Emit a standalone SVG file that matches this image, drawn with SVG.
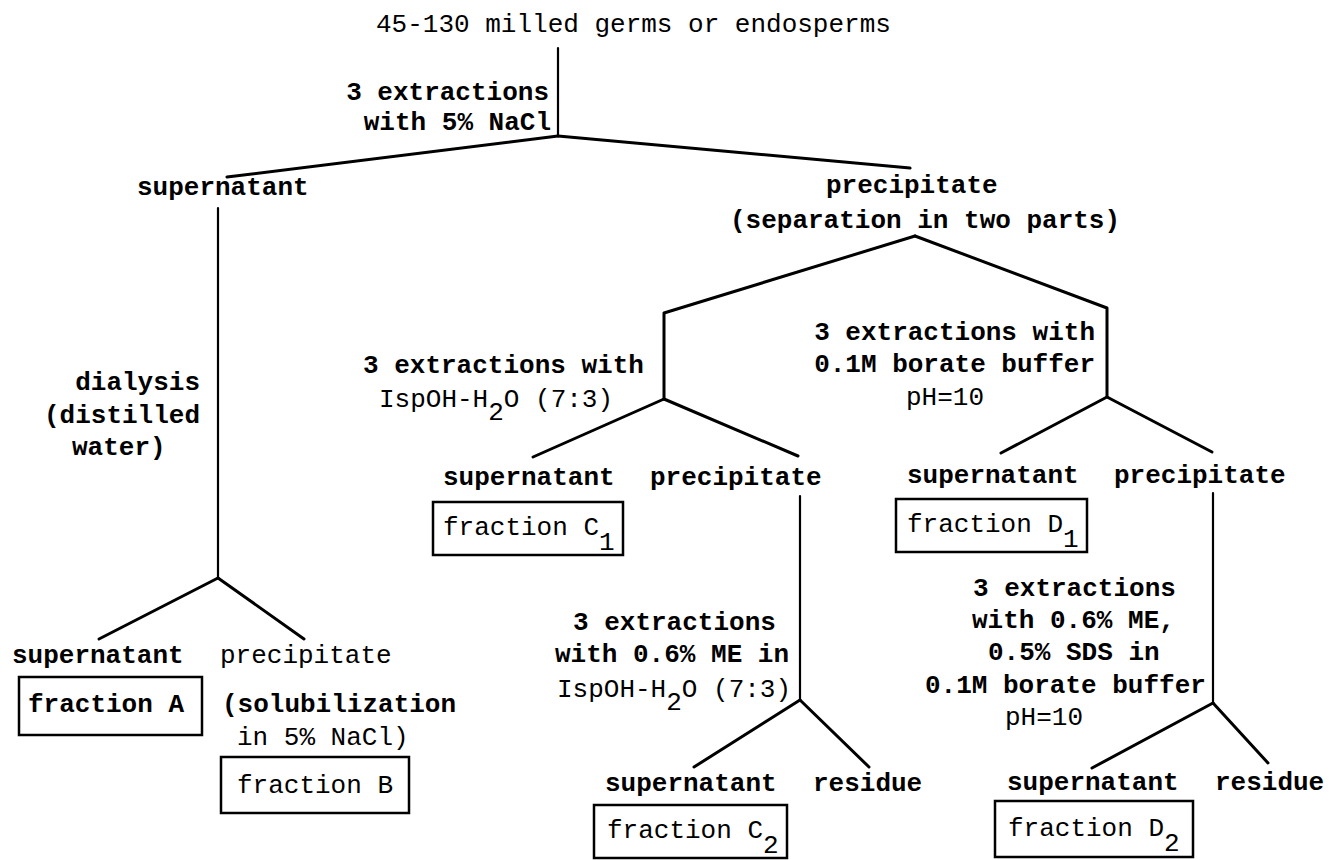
<svg xmlns="http://www.w3.org/2000/svg" width="1329" height="860" viewBox="0 0 1329 860">
<style>
text{font-family:"Liberation Mono","DejaVu Sans Mono",monospace;font-size:26px;fill:#000}
.b{font-weight:bold}
.box{fill:none;stroke:#000;stroke-width:2.5}
.c line,.c polyline{stroke:#000;stroke-width:3;fill:none;stroke-linecap:round;stroke-linejoin:round}
.c .v{stroke-width:2.2}
</style>
<rect width="1329" height="860" fill="#fff"/>
<g class="c" id="connectors">
<line class="v" x1="558" y1="48" x2="558" y2="136"/>
<line x1="558" y1="136" x2="227" y2="177"/>
<line x1="558" y1="136" x2="910" y2="168"/>
<line class="v" x1="218" y1="208" x2="218" y2="578"/>
<line x1="218" y1="578" x2="99" y2="639"/>
<line x1="218" y1="578" x2="304" y2="639"/>
<polyline points="915,236 664,313 664,399"/>
<polyline points="915,236 1107,308 1107,397"/>
<line x1="664" y1="399" x2="533" y2="457"/>
<line x1="664" y1="399" x2="798" y2="456"/>
<line class="v" x1="800" y1="496" x2="800" y2="700"/>
<line x1="800" y1="700" x2="694" y2="767"/>
<line x1="800" y1="700" x2="869" y2="767"/>
<line x1="1107" y1="397" x2="1001" y2="453"/>
<line x1="1107" y1="397" x2="1212" y2="452"/>
<line class="v" x1="1213" y1="493" x2="1213" y2="703"/>
<line x1="1213" y1="703" x2="1092" y2="768"/>
<line x1="1213" y1="703" x2="1268" y2="763"/>
</g>
<g id="start"><text x="376" y="32">45-130 milled germs or endosperms</text></g>
<g id="step1"><text class="b" x="549" y="100" text-anchor="end">3 extractions</text><text class="b" x="551" y="130" text-anchor="end">with 5% NaCl</text></g>
<g id="supernatant1"><text class="b" x="137" y="195">supernatant</text></g>
<g id="precipitate1"><text class="b" x="826" y="193">precipitate</text><text class="b" x="730" y="228">(separation in two parts)</text></g>
<g id="dialysis"><text class="b" x="200" y="390" text-anchor="end">dialysis</text><text class="b" x="200" y="423" text-anchor="end">(distilled</text><text class="b" x="72" y="455">water)</text></g>
<g id="stepC"><text class="b" x="363" y="373">3 extractions with</text><text x="379" y="407">IspOH-H<tspan dy="13">2</tspan><tspan dy="-13">O (7:3)</tspan></text></g>
<g id="stepD"><text class="b" x="1095" y="340" text-anchor="end">3 extractions with</text><text class="b" x="1095" y="372" text-anchor="end">0.1M borate buffer</text><text x="906" y="405">pH=10</text></g>
<g id="supernatantC"><text class="b" x="443" y="485">supernatant</text></g>
<g id="precipitateC"><text class="b" x="650" y="485">precipitate</text></g>
<g id="supernatantD"><text class="b" x="907" y="483">supernatant</text></g>
<g id="precipitateD"><text class="b" x="1114" y="483">precipitate</text></g>
<g id="fractionC1"><rect class="box" x="433" y="502" width="190" height="53"/><text x="443" y="535">fraction C<tspan dy="15">1</tspan></text></g>
<g id="fractionD1"><rect class="box" x="896" y="499" width="191" height="53"/><text x="907" y="532">fraction D<tspan dy="15">1</tspan></text></g>
<g id="stepC2"><text class="b" x="573" y="630">3 extractions</text><text class="b" x="555" y="662">with 0.6% ME in</text><text x="557" y="697">IspOH-H<tspan dy="13">2</tspan><tspan dy="-13">O (7:3)</tspan></text></g>
<g id="stepD2"><text class="b" x="973" y="596">3 extractions</text><text class="b" x="972" y="628">with 0.6% ME,</text><text class="b" x="988" y="660">0.5% SDS in</text><text class="b" x="925" y="693">0.1M borate buffer</text><text x="1005" y="725">pH=10</text></g>
<g id="supernatantA"><text class="b" x="12" y="663">supernatant</text></g>
<g id="precipitateB"><text x="220" y="663">precipitate</text><text class="b" x="222" y="712">(solubilization</text><text x="237" y="745">in 5% NaCl)</text></g>
<g id="fractionA"><rect class="box" x="19" y="677" width="183" height="58"/><text class="b" x="28" y="712">fraction A</text></g>
<g id="fractionB"><rect class="box" x="221" y="757" width="188" height="56"/><text x="237" y="793">fraction B</text></g>
<g id="supernatantC2"><text class="b" x="605" y="791">supernatant</text></g>
<g id="residueC"><text class="b" x="813" y="791">residue</text></g>
<g id="fractionC2"><rect class="box" x="594" y="805" width="193" height="53"/><text x="607" y="838">fraction C<tspan dy="15">2</tspan></text></g>
<g id="supernatantD2"><text class="b" x="1007" y="790">supernatant</text></g>
<g id="residueD"><text class="b" x="1215" y="790">residue</text></g>
<g id="fractionD2"><rect class="box" x="995" y="801" width="198" height="56"/><text x="1008" y="836">fraction D<tspan dy="15">2</tspan></text></g>
</svg>
